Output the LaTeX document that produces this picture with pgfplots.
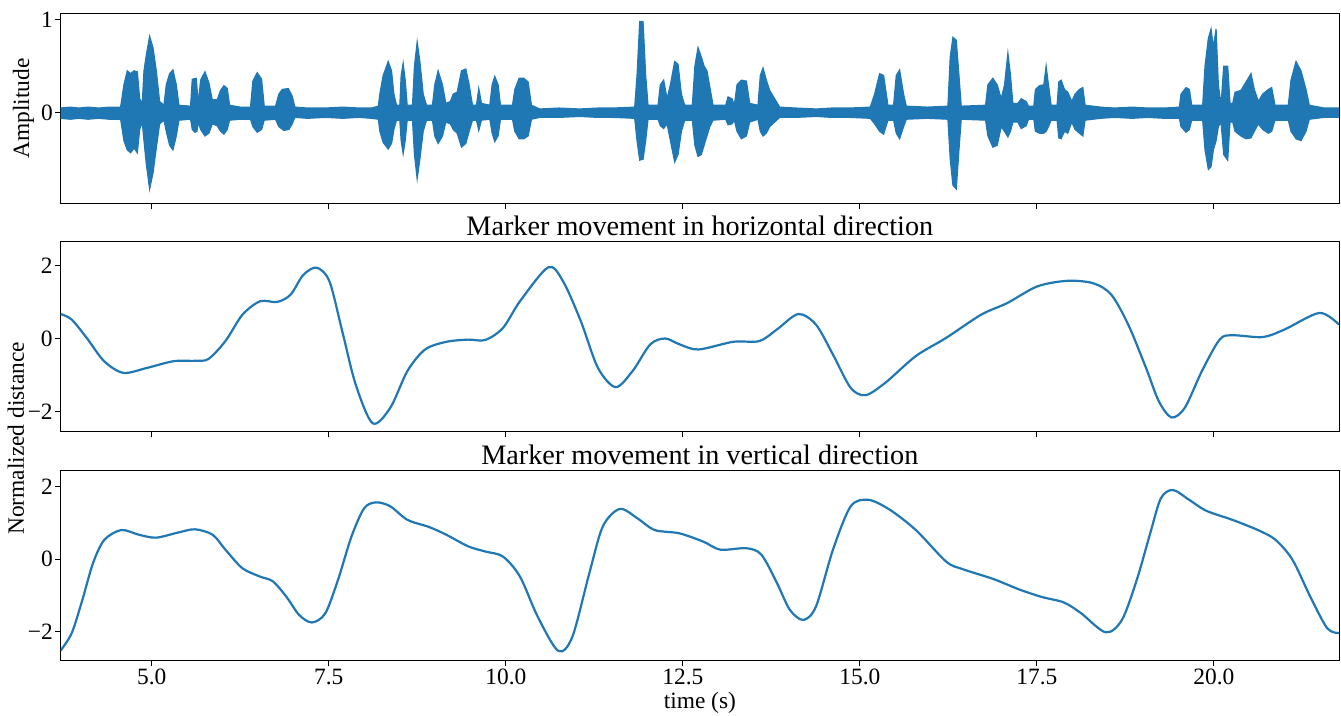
\documentclass[border=0pt]{standalone}
\usepackage{fontspec}
\setmainfont{Liberation Serif}
\usepackage{pgfplots}
\usepackage{pgfplotstable}
\pgfplotsset{compat=1.18}
\usepgfplotslibrary{fillbetween}
\definecolor{c1}{RGB}{31,119,180}

\pgfplotstableread{
t v
3.70 0.05
3.85 0.06
3.97 0.05
4.10 0.06
4.25 0.05
4.40 0.06
4.56 0.06
4.607 0.30
4.654 0.45
4.702 0.42
4.749 0.45
4.796 0.44
4.829 0.15
4.866 0.10
4.890 0.45
4.923 0.62
4.970 0.82
5.017 0.70
5.064 0.45
5.111 0.12
5.172 0.08
5.205 0.30
5.252 0.42
5.299 0.46
5.346 0.30
5.384 0.08
5.548 0.07
5.572 0.36
5.628 0.37
5.657 0.10
5.690 0.35
5.751 0.44
5.807 0.32
5.854 0.14
5.925 0.14
5.972 0.24
6.019 0.29
6.066 0.26
6.099 0.08
6.25 0.06
6.395 0.06
6.428 0.34
6.489 0.43
6.551 0.36
6.588 0.07
6.748 0.07
6.795 0.20
6.842 0.25
6.927 0.26
6.983 0.18
7.021 0.06
7.20 0.05
7.454 0.05
7.70 0.06
7.924 0.05
8.10 0.05
8.20 0.07
8.221 0.20
8.268 0.40
8.339 0.55
8.386 0.45
8.419 0.20
8.456 0.08
8.503 0.08
8.522 0.40
8.550 0.53
8.579 0.35
8.607 0.08
8.682 0.08
8.710 0.50
8.748 0.76
8.786 0.55
8.833 0.20
8.880 0.08
8.964 0.08
8.997 0.30
9.044 0.45
9.105 0.30
9.153 0.10
9.218 0.12
9.256 0.20
9.313 0.22
9.374 0.45
9.435 0.47
9.482 0.30
9.529 0.08
9.585 0.08
9.618 0.26
9.656 0.10
9.774 0.08
9.807 0.30
9.844 0.39
9.891 0.30
9.924 0.08
10.094 0.08
10.127 0.25
10.188 0.37
10.253 0.37
10.315 0.33
10.362 0.08
10.479 0.04
10.75 0.05
11.044 0.04
11.30 0.05
11.514 0.05
11.820 0.06
11.853 0.40
11.891 0.98
11.938 0.98
11.975 0.40
12.008 0.08
12.150 0.08
12.182 0.30
12.229 0.35
12.277 0.15
12.324 0.30
12.385 0.55
12.432 0.52
12.479 0.20
12.526 0.08
12.634 0.08
12.670 0.50
12.714 0.70
12.760 0.60
12.800 0.50
12.840 0.45
12.880 0.28
12.926 0.08
13.105 0.08
13.138 0.17
13.194 0.15
13.227 0.08
13.265 0.30
13.326 0.35
13.397 0.34
13.444 0.10
13.561 0.08
13.594 0.40
13.632 0.48
13.679 0.35
13.726 0.24
13.797 0.15
13.867 0.06
14.10 0.05
14.385 0.04
14.60 0.05
14.855 0.05
15.147 0.06
15.208 0.20
15.279 0.42
15.335 0.40
15.396 0.08
15.476 0.08
15.514 0.40
15.561 0.46
15.617 0.20
15.655 0.07
15.95 0.06
16.243 0.07
16.276 0.60
16.314 0.81
16.361 0.78
16.399 0.40
16.431 0.07
16.775 0.08
16.808 0.30
16.878 0.37
16.939 0.30
16.996 0.15
17.043 0.30
17.090 0.64
17.127 0.40
17.160 0.10
17.231 0.10
17.278 0.15
17.348 0.12
17.381 0.07
17.456 0.07
17.479 0.25
17.536 0.29
17.597 0.30
17.630 0.50
17.663 0.30
17.701 0.08
17.785 0.08
17.809 0.33
17.842 0.35
17.889 0.25
17.936 0.22
17.992 0.12
18.039 0.20
18.100 0.25
18.148 0.27
18.180 0.08
18.40 0.06
18.594 0.05
18.85 0.06
19.065 0.05
19.30 0.05
19.512 0.06
19.535 0.20
19.606 0.27
19.653 0.25
19.686 0.08
19.841 0.08
19.874 0.50
19.921 0.80
19.959 0.90
19.992 0.70
20.030 0.90
20.062 0.30
20.100 0.08
20.138 0.50
20.194 0.50
20.227 0.10
20.265 0.10
20.298 0.22
20.382 0.24
20.453 0.33
20.523 0.42
20.570 0.25
20.627 0.12
20.688 0.20
20.768 0.25
20.815 0.27
20.862 0.08
21.050 0.08
21.088 0.35
21.159 0.55
21.229 0.45
21.300 0.25
21.347 0.08
21.558 0.05
21.77 0.05
}\upperenv

\pgfplotstableread{
t v
3.70 -0.06
3.85 -0.07
3.97 -0.06
4.10 -0.07
4.25 -0.06
4.40 -0.07
4.56 -0.07
4.607 -0.30
4.654 -0.40
4.702 -0.43
4.749 -0.38
4.796 -0.43
4.829 -0.18
4.866 -0.10
4.890 -0.30
4.923 -0.55
4.970 -0.82
5.017 -0.65
5.064 -0.38
5.111 -0.12
5.172 -0.08
5.205 -0.20
5.252 -0.35
5.299 -0.40
5.346 -0.25
5.384 -0.08
5.548 -0.07
5.572 -0.18
5.609 -0.21
5.638 -0.20
5.657 -0.10
5.690 -0.18
5.751 -0.25
5.807 -0.22
5.854 -0.12
5.925 -0.14
5.972 -0.20
6.019 -0.23
6.066 -0.18
6.099 -0.08
6.25 -0.07
6.395 -0.07
6.428 -0.15
6.489 -0.21
6.551 -0.18
6.588 -0.08
6.748 -0.07
6.795 -0.15
6.866 -0.19
6.936 -0.18
6.983 -0.12
7.021 -0.05
7.20 -0.06
7.454 -0.05
7.70 -0.06
7.924 -0.05
8.10 -0.06
8.20 -0.07
8.221 -0.20
8.268 -0.32
8.339 -0.39
8.386 -0.33
8.419 -0.18
8.456 -0.08
8.503 -0.08
8.522 -0.30
8.550 -0.44
8.579 -0.30
8.607 -0.08
8.682 -0.08
8.710 -0.45
8.748 -0.71
8.786 -0.50
8.833 -0.20
8.880 -0.08
8.964 -0.08
8.997 -0.25
9.044 -0.33
9.105 -0.25
9.153 -0.10
9.218 -0.12
9.256 -0.18
9.313 -0.22
9.374 -0.37
9.435 -0.33
9.482 -0.20
9.529 -0.08
9.585 -0.08
9.618 -0.19
9.656 -0.08
9.774 -0.07
9.807 -0.22
9.844 -0.31
9.891 -0.25
9.924 -0.07
10.094 -0.07
10.127 -0.20
10.188 -0.28
10.253 -0.28
10.315 -0.25
10.362 -0.07
10.479 -0.05
10.75 -0.05
11.044 -0.04
11.30 -0.05
11.514 -0.05
11.820 -0.06
11.853 -0.30
11.891 -0.51
11.938 -0.50
11.975 -0.30
12.008 -0.07
12.150 -0.07
12.182 -0.14
12.229 -0.17
12.277 -0.12
12.324 -0.30
12.385 -0.53
12.432 -0.45
12.479 -0.20
12.526 -0.08
12.634 -0.08
12.670 -0.35
12.714 -0.47
12.760 -0.45
12.800 -0.35
12.840 -0.25
12.880 -0.15
12.926 -0.08
13.105 -0.07
13.138 -0.13
13.194 -0.12
13.227 -0.08
13.265 -0.20
13.326 -0.28
13.397 -0.25
13.444 -0.10
13.561 -0.07
13.594 -0.20
13.632 -0.25
13.679 -0.22
13.726 -0.15
13.797 -0.10
13.867 -0.05
14.10 -0.05
14.385 -0.04
14.60 -0.05
14.855 -0.05
15.147 -0.06
15.208 -0.12
15.279 -0.20
15.335 -0.23
15.396 -0.08
15.476 -0.08
15.514 -0.22
15.561 -0.28
15.617 -0.15
15.655 -0.07
15.95 -0.06
16.243 -0.07
16.276 -0.50
16.314 -0.78
16.361 -0.82
16.399 -0.40
16.431 -0.07
16.775 -0.08
16.808 -0.25
16.878 -0.37
16.939 -0.35
16.996 -0.15
17.043 -0.20
17.090 -0.26
17.127 -0.20
17.160 -0.10
17.231 -0.10
17.278 -0.17
17.348 -0.14
17.381 -0.07
17.456 -0.07
17.479 -0.20
17.536 -0.22
17.597 -0.22
17.630 -0.20
17.663 -0.15
17.701 -0.08
17.785 -0.08
17.809 -0.27
17.842 -0.28
17.889 -0.20
17.936 -0.22
17.992 -0.10
18.039 -0.18
18.100 -0.22
18.148 -0.25
18.180 -0.08
18.40 -0.06
18.594 -0.05
18.85 -0.06
19.065 -0.05
19.30 -0.06
19.512 -0.06
19.535 -0.15
19.606 -0.21
19.653 -0.18
19.686 -0.08
19.841 -0.08
19.874 -0.40
19.921 -0.61
19.959 -0.58
19.992 -0.40
20.030 -0.30
20.062 -0.15
20.100 -0.10
20.138 -0.45
20.194 -0.51
20.227 -0.10
20.265 -0.10
20.298 -0.20
20.382 -0.25
20.453 -0.28
20.523 -0.27
20.570 -0.20
20.627 -0.12
20.688 -0.18
20.768 -0.22
20.815 -0.20
20.862 -0.08
21.050 -0.08
21.088 -0.20
21.159 -0.28
21.229 -0.30
21.300 -0.20
21.347 -0.07
21.558 -0.05
21.77 -0.05
}\lowerenv

\pgfplotstableread{
t v
3.714 0.68
3.868 0.53
4.08 0.03
4.327 -0.61
4.60 -0.93
4.94 -0.79
5.31 -0.61
5.61 -0.60
5.80 -0.55
6.04 -0.06
6.28 0.66
6.53 1.03
6.77 1.01
6.96 1.21
7.14 1.75
7.33 1.95
7.51 1.57
7.69 0.21
7.88 -1.25
8.12 -2.31
8.37 -1.88
8.61 -0.88
8.86 -0.29
9.16 -0.08
9.47 -0.02
9.71 -0.03
9.96 0.30
10.20 1.03
10.60 1.96
10.81 1.57
11.06 0.48
11.30 -0.79
11.55 -1.32
11.79 -0.88
12.04 -0.15
12.25 0.01
12.455 -0.15
12.72 -0.29
13.21 -0.08
13.58 -0.06
13.83 0.26
14.13 0.68
14.38 0.39
14.62 -0.43
14.87 -1.34
15.08 -1.54
15.36 -1.20
15.79 -0.47
16.22 0.03
16.71 0.66
17.08 0.98
17.51 1.44
17.94 1.59
18.30 1.52
18.55 1.21
18.79 0.39
19.04 -0.79
19.22 -1.70
19.40 -2.15
19.59 -1.88
19.83 -0.88
20.08 -0.02
20.26 0.10
20.69 0.05
21.00 0.26
21.49 0.71
21.766 0.39
}\horiz

\pgfplotstableread{
t v
3.714 -2.51
3.87 -2.03
4.02 -1.12
4.17 -0.11
4.33 0.53
4.57 0.80
4.82 0.67
5.06 0.59
5.37 0.73
5.61 0.82
5.86 0.67
6.04 0.26
6.28 -0.25
6.53 -0.48
6.71 -0.61
6.90 -1.03
7.08 -1.53
7.26 -1.74
7.45 -1.49
7.63 -0.57
7.82 0.62
8.00 1.40
8.17 1.56
8.37 1.45
8.61 1.08
8.92 0.88
9.16 0.67
9.47 0.35
9.71 0.21
9.96 0.07
10.20 -0.48
10.45 -1.58
10.74 -2.52
10.94 -2.13
11.18 -0.38
11.37 0.90
11.61 1.38
11.86 1.12
12.10 0.80
12.45 0.71
12.79 0.48
13.03 0.26
13.40 0.30
13.61 0.12
13.83 -0.66
14.01 -1.39
14.20 -1.67
14.38 -1.30
14.62 0.26
14.87 1.45
15.12 1.63
15.42 1.36
15.79 0.80
16.22 -0.07
16.46 -0.28
16.89 -0.55
17.26 -0.84
17.57 -1.04
17.88 -1.19
18.12 -1.48
18.47 -2.01
18.70 -1.67
18.91 -0.57
19.10 0.71
19.25 1.67
19.42 1.90
19.65 1.63
19.89 1.33
20.26 1.08
20.62 0.80
20.87 0.53
21.11 -0.02
21.36 -1.03
21.60 -1.90
21.766 -2.03
}\vert

\pgfplotsset{
  panel/.style={
    scale only axis, width=639.15pt, height=95pt,
    xmin=3.714, xmax=21.766,
    axis line style={black, line width=0.5pt},
    tick pos=left, tick align=outside,
    major tick length=2.8pt,
    every tick/.style={black, line width=0.5pt},
    xtick={5,7.5,10,12.5,15,17.5,20},
    /pgf/number format/assume math mode=true,
    tick label style={font=\fontsize{11.7}{14}\selectfont},
    yticklabel style={inner sep=1pt},
    xticklabel style={inner sep=1.2pt},
    title style={at={(axis description cs:0.5,1)}, anchor=base, yshift=-2.7pt, font=\fontsize{14.1}{17}\selectfont},
    label style={font=\fontsize{11.7}{14}\selectfont},
  }
}

\begin{document}
\begin{tikzpicture}
\begin{axis}[panel, at={(0pt,0pt)}, anchor=north west,
  ymin=-0.974, ymax=1.069,
  ytick={0,1}, yticklabels={0,1},
  xticklabels={},
  ylabel={Amplitude},
  ylabel style={at={(axis description cs:-0.0248,0.5)}, anchor=base},
]
\addplot[name path=up, draw=c1, line width=0.6pt] table[x=t,y=v] {\upperenv};
\addplot[name path=lo, draw=c1, line width=0.6pt] table[x=t,y=v] {\lowerenv};
\addplot[fill=c1, draw=none] fill between[of=up and lo];
\end{axis}

\begin{axis}[panel, at={(0pt,-114.2pt)}, anchor=north west,
  ymin=-2.54, ymax=2.66,
  ytick={-2,0,2}, yticklabels={−2,0,2},
  xticklabels={},
  title={Marker movement in horizontal direction},
]
\addplot[c1, line width=1.1pt, smooth] table[x=t,y=v] {\horiz};
\end{axis}

\begin{axis}[panel, at={(0pt,-228.7pt)}, anchor=north west,
  ymin=-2.79, ymax=2.43,
  ytick={-2,0,2}, yticklabels={−2,0,2},
  xticklabels={5.0,7.5,10.0,12.5,15.0,17.5,20.0},
  title={Marker movement in vertical direction},
  xlabel={time (s)},
  xlabel style={at={(axis description cs:0.5,-0.2542)}, anchor=base},
  ylabel={Normalized distance},
  ylabel style={at={(axis description cs:-0.02871,1.1705)}, anchor=base},
]
\addplot[c1, line width=1.1pt, smooth] table[x=t,y=v] {\vert};
\end{axis}
\pgfresetboundingbox
\path[use as bounding box] (-30.35pt,6.65pt) rectangle (640.15pt,-351.35pt);
\end{tikzpicture}
\end{document}
